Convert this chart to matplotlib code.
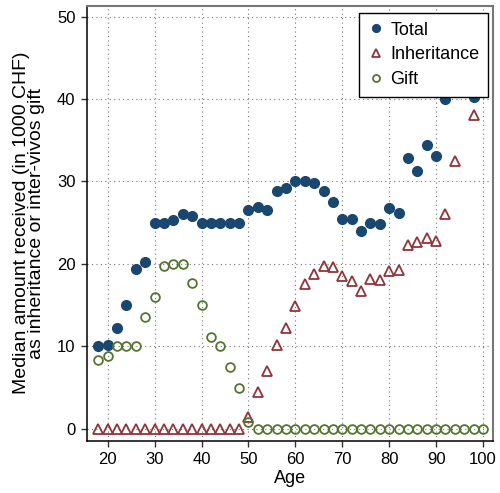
import numpy as np
from matplotlib import pyplot as plt

plt.rcParams['font.family'] = ['Liberation Sans', 'DejaVu Sans']

age = list(range(18, 101, 2))

# NaN = hidden behind the legend
total = [10.0, 10.15, 12.2, 15.0, 19.4, 20.2, 25.0, 25.0, 25.3, 26.0,
         25.8, 25.0, 25.0, 25.0, 25.0, 25.0, 26.6, 26.9, 26.5, 28.9,
         29.2, 30.0, 30.0, 29.8, 28.9, 27.5, 25.4, 25.4, 24.0, 25.0,
         24.8, 26.8, 26.2, 32.9, 31.3, 34.4, 33.1, 40.0, np.nan, np.nan,
         40.2, np.nan]
inheritance = [0, 0, 0, 0, 0, 0, 0, 0, 0, 0,
               0, 0, 0, 0, 0, 0, 1.4, 4.5, 7.0, 10.1,
               12.2, 14.95, 17.5, 18.8, 19.75, 19.6, 18.5, 17.9, 16.7, 18.2,
               18.0, 19.1, 19.25, 22.35, 22.7, 23.2, 22.8, 26.1, 32.5, np.nan,
               38.1, np.nan]
gift = [8.35, 8.8, 10.0, 10.0, 10.0, 13.5, 16.0, 19.8, 20.0, 20.0,
        17.7, 15.0, 11.15, 10.0, 7.5, 5.0, 0.8, 0, 0, 0,
        0, 0, 0, 0, 0, 0, 0, 0, 0, 0,
        0, 0, 0, 0, 0, 0, 0, 0, 0, 0,
        0, 0]

navy = '#1a476f'
maroon = '#90353b'
green = '#55752f'

fig = plt.figure(figsize=(5, 4.93), dpi=100)
ax = fig.add_axes([0.1734, 0.106, 0.8126, 0.8824])

ax.plot(age, total, 'o', color=navy, markersize=7.0, label='Total', zorder=3)
ax.plot(age, inheritance, '^', color=maroon, markerfacecolor='none',
        markeredgewidth=1.3, markersize=7.5, label='Inheritance', zorder=3)
ax.plot(age, gift, 'o', color=green, markerfacecolor='none',
        markeredgewidth=1.3, markersize=6.3, label='Gift', zorder=3)

ax.set_xlim(15.52, 102.13)
ax.set_ylim(-1.46, 51.33)
ax.set_xticks(range(20, 101, 10))
ax.set_yticks(range(0, 51, 10))
ax.grid(True, linestyle=(0, (1, 3)), color='#777777', linewidth=0.8)
ax.set_axisbelow(True)

ax.tick_params(direction='out', length=4.5, width=1, labelsize=12,
               color='#333333', pad=3.5)
for s in ['left', 'bottom']:
    ax.spines[s].set_color('black')
    ax.spines[s].set_linewidth(1.1)
for s in ['top', 'right']:
    ax.spines[s].set_color('#777777')
    ax.spines[s].set_linewidth(1.5)

ax.set_xlabel('Age', fontsize=13, labelpad=2.5)
ax.set_ylabel('Median amount received (in 1000 CHF)\nas inheritance or inter-vivos gift',
              fontsize=14, linespacing=0.85)
ax.yaxis.set_label_coords(-0.103, 0.5)

leg = ax.legend(loc='upper right', bbox_to_anchor=(0.9884, 0.984), borderaxespad=0,
                fancybox=False, framealpha=1, edgecolor='black', fontsize=13,
                markerscale=0.8, handletextpad=0.4, handlelength=0.8,
                borderpad=0.5, labelspacing=0.42)
leg.get_frame().set_linewidth(1.0)
leg.set_zorder(5)

fig.savefig('out.png', dpi=100)
